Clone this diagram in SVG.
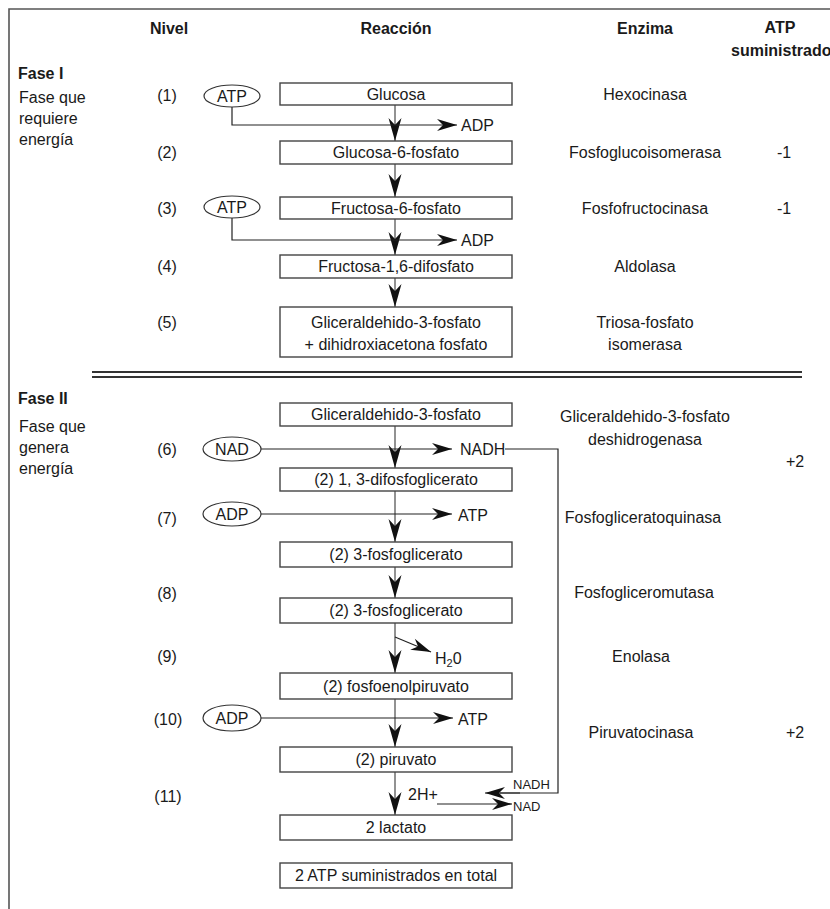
<svg xmlns="http://www.w3.org/2000/svg" width="830" height="909" viewBox="0 0 830 909">
  <defs>
    <marker id="head" markerUnits="userSpaceOnUse" markerWidth="26" markerHeight="16" viewBox="-25 -8 26 16" refX="0" refY="0" orient="auto">
      <path d="M0,0 L-23,-6.5 L-16,0 L-23,6.5 Z" fill="#111"/>
    </marker>
    <marker id="head-s" markerUnits="userSpaceOnUse" markerWidth="22" markerHeight="14" viewBox="-21 -7 22 14" refX="0" refY="0" orient="auto">
      <path d="M0,0 L-20,-6 L-14,0 L-20,6 Z" fill="#111"/>
    </marker>
  </defs>
  <style>
    text { font-family: "Liberation Sans", Arial, sans-serif; font-size: 16px; fill: #1a1a1a; }
    .b { font-weight: bold; }
    .c { text-anchor: middle; }
    .sm { font-size: 13px; }
    .box { fill: #fff; stroke: #444; stroke-width: 1.4; }
    .ell { fill: #fff; stroke: #333; stroke-width: 1.2; }
    .main { fill: none; stroke: #777; stroke-width: 1.6; marker-end: url(#head); }
    .side { fill: none; stroke: #222; stroke-width: 1.2; }
    .side-a { fill: none; stroke: #222; stroke-width: 1.2; marker-end: url(#head-s); }
    .frame { fill: none; stroke: #555; stroke-width: 1.6; }
  </style>

  <rect width="830" height="909" fill="#fff"/>

  <!-- frame -->
  <path class="frame" d="M9,909 V9 H830"/>

  <!-- column headers -->
  <g id="headers">
    <text class="b c" x="169" y="34">Nivel</text>
    <text class="b c" x="396" y="34">Reacción</text>
    <text class="b c" x="645" y="34">Enzima</text>
    <text class="b c" x="780" y="33">ATP</text>
    <text class="b" x="731" y="56">suministrado</text>
  </g>

  <!-- phase labels -->
  <g id="fase1">
    <text class="b" x="18" y="79">Fase I</text>
    <text x="19" y="103">Fase que</text>
    <text x="19" y="124">requiere</text>
    <text x="19" y="145">energía</text>
  </g>
  <g id="fase2">
    <text class="b" x="18" y="404">Fase II</text>
    <text x="19" y="432">Fase que</text>
    <text x="19" y="453">genera</text>
    <text x="19" y="474">energía</text>
  </g>

  <!-- phase separator -->
  <g id="separator">
    <line x1="92" y1="372" x2="802" y2="372" stroke="#333" stroke-width="2"/>
    <line x1="92" y1="377" x2="802" y2="377" stroke="#333" stroke-width="2"/>
  </g>

  <!-- level numbers -->
  <g id="levels">
    <text class="c" x="167" y="101">(1)</text>
    <text class="c" x="167" y="158">(2)</text>
    <text class="c" x="167" y="214">(3)</text>
    <text class="c" x="167" y="272">(4)</text>
    <text class="c" x="167" y="328">(5)</text>
    <text class="c" x="167" y="455">(6)</text>
    <text class="c" x="167" y="524">(7)</text>
    <text class="c" x="167" y="599">(8)</text>
    <text class="c" x="167" y="662">(9)</text>
    <text class="c" x="168" y="725">(10)</text>
    <text class="c" x="168" y="802">(11)</text>
  </g>

  <!-- connectors -->
  <g id="connectors">
    <path class="main" d="M395,105 V141"/>
    <path class="main" d="M395,164 V197"/>
    <path class="main" d="M395,219 V255"/>
    <path class="main" d="M395,278 V307"/>
    <path class="main" d="M395,426 V468"/>
    <path class="main" d="M395,491 V542"/>
    <path class="main" d="M395,567 V598"/>
    <path class="main" d="M395,623 V673"/>
    <path class="main" d="M395,699 V747"/>
    <path class="main" d="M395,772 V815"/>

    <path class="side-a" d="M232,107 V125 H457"/>
    <path class="side-a" d="M232,218 V240 H457"/>
    <path class="side-a" d="M261,449 H452"/>
    <path class="side" d="M505,449 H558 V793 H500"/>
    <path class="side-a" d="M520,793 H485"/>
    <path class="side-a" d="M261,514 H452"/>
    <path class="side-a" d="M395,637 L431,652"/>
    <path class="side-a" d="M261,718 H453"/>
    <path class="side-a" d="M437,804 H512"/>
  </g>

  <!-- side metabolites -->
  <g id="cofactors">
    <g id="atp1"><ellipse class="ell" cx="232" cy="96" rx="28" ry="11"/><text class="c" x="232" y="102">ATP</text></g>
    <g id="atp3"><ellipse class="ell" cx="232" cy="207" rx="28" ry="11"/><text class="c" x="232" y="213">ATP</text></g>
    <g id="nad6"><ellipse class="ell" cx="232" cy="449" rx="29" ry="12"/><text class="c" x="232" y="455">NAD</text></g>
    <g id="adp7"><ellipse class="ell" cx="232" cy="514" rx="29" ry="12"/><text class="c" x="232" y="520">ADP</text></g>
    <g id="adp10"><ellipse class="ell" cx="232" cy="718" rx="29" ry="13"/><text class="c" x="232" y="724">ADP</text></g>
    <text x="461" y="131">ADP</text>
    <text x="461" y="246">ADP</text>
    <text x="460" y="455">NADH</text>
    <text x="458" y="521">ATP</text>
    <text x="435" y="664">H<tspan font-size="11" dy="3">2</tspan><tspan dy="-3">0</tspan></text>
    <text x="458" y="725">ATP</text>
    <text x="408" y="800">2H+</text>
    <text class="sm" x="513" y="789">NADH</text>
    <text class="sm" x="513" y="811">NAD</text>
  </g>

  <!-- reaction steps -->
  <g id="glucosa"><rect class="box" x="280" y="83" width="232" height="22"/><text class="c" x="396" y="100">Glucosa</text></g>
  <g id="glucosa6p"><rect class="box" x="280" y="141" width="232" height="23"/><text class="c" x="396" y="158">Glucosa-6-fosfato</text></g>
  <g id="fructosa6p"><rect class="box" x="280" y="197" width="232" height="22"/><text class="c" x="396" y="214">Fructosa-6-fosfato</text></g>
  <g id="fructosa16dp"><rect class="box" x="280" y="255" width="232" height="23"/><text class="c" x="396" y="272">Fructosa-1,6-difosfato</text></g>
  <g id="triosas"><rect class="box" x="280" y="307" width="232" height="50"/><text class="c" x="396" y="328">Gliceraldehido-3-fosfato</text><text class="c" x="396" y="350">+ dihidroxiacetona fosfato</text></g>
  <g id="g3p"><rect class="box" x="280" y="403" width="232" height="23"/><text class="c" x="396" y="420">Gliceraldehido-3-fosfato</text></g>
  <g id="bpg"><rect class="box" x="280" y="468" width="232" height="23"/><text class="c" x="396" y="485">(2) 1, 3-difosfoglicerato</text></g>
  <g id="pg3a"><rect class="box" x="280" y="542" width="232" height="25"/><text class="c" x="396" y="560">(2) 3-fosfoglicerato</text></g>
  <g id="pg3b"><rect class="box" x="280" y="598" width="232" height="25"/><text class="c" x="396" y="616">(2) 3-fosfoglicerato</text></g>
  <g id="pep"><rect class="box" x="280" y="673" width="232" height="26"/><text class="c" x="396" y="692">(2) fosfoenolpiruvato</text></g>
  <g id="piruvato"><rect class="box" x="280" y="747" width="232" height="25"/><text class="c" x="396" y="765">(2) piruvato</text></g>
  <g id="lactato"><rect class="box" x="280" y="815" width="232" height="25"/><text class="c" x="396" y="833">2 lactato</text></g>
  <g id="total"><rect class="box" x="280" y="863" width="232" height="25"/><text class="c" x="396" y="881">2 ATP suministrados en total</text></g>

  <!-- enzymes -->
  <g id="enzimas">
    <text class="c" x="645" y="100">Hexocinasa</text>
    <text class="c" x="645" y="158">Fosfoglucoisomerasa</text>
    <text class="c" x="645" y="214">Fosfofructocinasa</text>
    <text class="c" x="645" y="272">Aldolasa</text>
    <text class="c" x="645" y="328">Triosa-fosfato</text>
    <text class="c" x="645" y="350">isomerasa</text>
    <text class="c" x="645" y="422">Gliceraldehido-3-fosfato</text>
    <text class="c" x="645" y="445">deshidrogenasa</text>
    <text class="c" x="643" y="523">Fosfogliceratoquinasa</text>
    <text class="c" x="644" y="598">Fosfogliceromutasa</text>
    <text class="c" x="641" y="662">Enolasa</text>
    <text class="c" x="641" y="738">Piruvatocinasa</text>
  </g>

  <!-- ATP balance -->
  <g id="balance">
    <text class="c" x="784" y="158">-1</text>
    <text class="c" x="784" y="214">-1</text>
    <text class="c" x="795" y="467">+2</text>
    <text class="c" x="795" y="738">+2</text>
  </g>
</svg>
